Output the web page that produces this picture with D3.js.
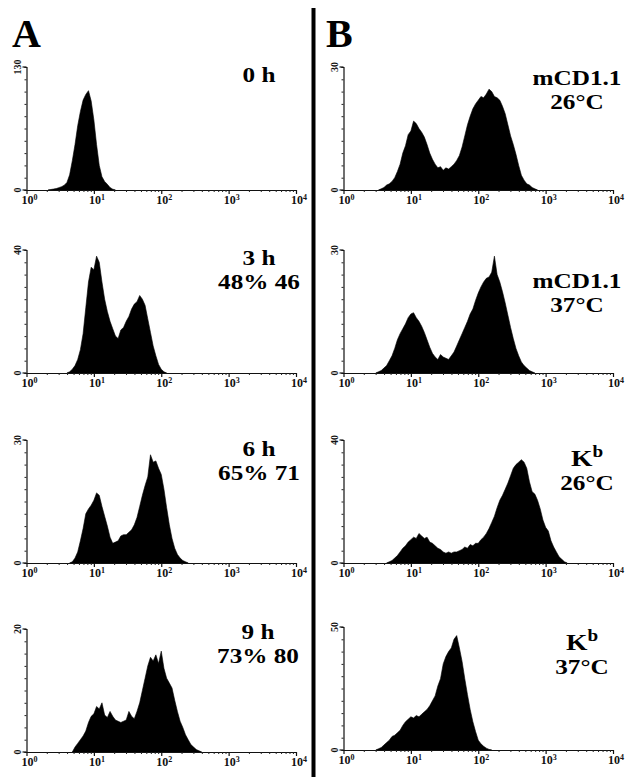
<!DOCTYPE html>
<html><head><meta charset="utf-8">
<script src="https://cdn.jsdelivr.net/npm/d3@7"></script>
<style>body{margin:0;background:#fff}svg{display:block}</style>
</head><body><svg id="c" width="630" height="777"></svg>
<script>
// ---- data: histogram bins, log10(fluorescence) start + fixed step, counts per bin ----
const binStep = 0.04;

const a0Start = 0.32;
const a0Counts = [0,0.5,1,1.5,2.5,3.5,5,8,16,31,48,68,83,95,101,105,94,74,48,26,14,9,6,2.6,0.9,0];

const a1Start = 0.60;
const a1Counts = [0,0.4,1.2,2.4,4.4,7.6,12.8,21.2,29.6,34.4,33.6,38,36,29.6,24,20,16.8,14.4,12,11.2,14,14.8,16.8,18.4,20.8,22.4,23.2,25.2,24,22,17.6,13.2,8.8,5.6,2.8,1.2,0.4,0];

const a2Start = 0.64;
const a2Counts = [0,0.3,1.2,2.7,5.4,8.4,12,13.2,14.1,15.3,17.1,16.5,13.8,11.4,9,6.3,4.8,5.1,5.4,6.6,6.9,6.9,7.5,8.1,9.3,11.1,13.8,16.5,18.9,21,26.4,24.6,24.9,23.1,21.6,18,13.5,9.3,6,3.6,2.1,1.2,0.6,0.3,0];

const a3Start = 0.68;
const a3Counts = [0,0.8,1.4,2,2.6,3.4,4.8,5.8,6.2,7.4,7,8,6,5.6,6.6,5.8,5.2,5,4.8,5,5.2,6.6,5.8,5.4,6.6,8,10,12,14,15.4,14.8,15.8,14.4,16.4,13.6,12,11.2,10.4,8.4,6.6,5,4,2.8,2,1.2,0.8,0.4,0.2,0];

const b0Start = 0.52;
const b0Counts = [0,0.3,0.6,1.2,1.5,2.1,3,4.5,6.3,9,10.8,13.5,14.4,16.8,16.2,15,14.1,12.9,11.1,9,7.5,6.3,5.4,5.7,4.8,5.4,5.1,5.7,6.3,7.2,8.4,10.5,13.2,15.9,18,19.8,21,21.9,22.8,22.5,23.4,24.6,24,22.8,22.5,21.9,20.4,18.6,15.9,13.2,11.1,8.7,6,3.6,2.4,1.5,1.2,0.6,0.3,0];

const b1Start = 0.48;
const b1Counts = [0,0.3,0.6,1.2,1.8,3,4.2,6,8.1,9.6,10.8,12,13.5,14.4,14.7,13.5,12.6,11.4,9.9,8.1,6.3,4.8,3.9,3.3,4.5,3.9,3.6,3.3,4.2,5.1,6.6,8.1,9.6,11.1,12.6,14.4,15.6,17.7,19.5,21,22.2,23.1,23.4,24.6,28.5,24,22.2,19.8,17.1,14.1,11.1,8.4,6,4.2,2.7,1.8,1.2,0.6,0.3,0];

const b2Start = 0.64;
const b2Counts = [0,0.4,0.8,1.6,2.4,3.6,4.8,5.6,6.8,7.6,8.4,8,9.6,8.8,8,8.4,6.8,6.4,5.6,4.8,4.4,3.6,3.2,3.6,3.2,3.6,3.6,4,4.4,5.2,4.8,6,5.6,6.4,6.4,7.6,8.4,9.6,11.2,13.2,15.2,18,20.4,22,24,26,28.4,30.8,32,32.8,33.6,32.8,30.8,26.4,23.2,22.4,20.4,17.6,14,11.6,10.4,7.2,5.2,3.6,2,1.2,0.4,0];

const b3Start = 0.48;
const b3Counts = [0,0.5,1,2,3,4,5.5,6,7,8,10,11.5,12.5,13.5,13,14,13.5,14.5,15.5,16.5,18,20,22,26,29,35,38,40,41.5,45,46.5,41.5,36,29,22.5,16.5,11.5,7.5,4,2.5,1.5,0.75,0.25,0];

// y-axis maxima (tick labels) per panel
const yMaxA = [130, 40, 30, 20];
const yMaxB = [30, 30, 40, 50];

// x tick exponents
const xTickExps = [0, 1, 2, 3, 4];

// panel titles (line1, line2); "|" marks a superscript
const titlesA = [["0 h", ""], ["3 h", "48% 46"], ["6 h", "65% 71"], ["9 h", "73% 80"]];
const titlesB = [["mCD1.1", "26°C"], ["mCD1.1", "37°C"], ["K|b", "26°C"], ["K|b", "37°C"]];

const panelLetters = ["A", "B"];

// ---- layout ----
const svg = d3.select("#c");
const W = 269.5, H = 123;
const colX = [26.5, 343.5];
const rowTopA = [67, 250, 440, 629];
const rowTopB = [67, 250, 440, 627];
const FONT = "'Liberation Serif', 'Times New Roman', serif";
const TITLE_SIZE = 21, TITLE_SX = 1.2;

const startsA = [a0Start, a1Start, a2Start, a3Start];
const countsA = [a0Counts, a1Counts, a2Counts, a3Counts];
const startsB = [b0Start, b1Start, b2Start, b3Start];
const countsB = [b0Counts, b1Counts, b2Counts, b3Counts];

// title placement (centre x, baselines)
const titlePosA = [[259, 82, 0], [259, 265, 289], [259, 456, 480], [258, 639, 663]];
const titlePosB = [[577, 85, 109], [577, 288, 312], [587, 466, 490], [582, 650, 674]];

// divider
svg.append("rect").attr("x", 311.5).attr("y", 8).attr("width", 4).attr("height", 777).attr("fill", "#000");

// panel letters
svg.append("text").attr("x", 12).attr("y", 47).text(panelLetters[0])
  .attr("font-family", FONT).attr("font-weight", "bold").attr("font-size", 40).attr("fill", "#000");
svg.append("text").attr("x", 326).attr("y", 47).text(panelLetters[1])
  .attr("font-family", FONT).attr("font-weight", "bold").attr("font-size", 40).attr("fill", "#000");

function titleText(cx, by) {
  return svg.append("text").attr("transform", `translate(${cx},${by}) scale(${TITLE_SX},1)`)
    .attr("text-anchor", "middle").attr("font-family", FONT).attr("font-weight", "bold")
    .attr("font-size", TITLE_SIZE).attr("fill", "#000");
}

function drawPanel(x0, top, start, counts, yMax, title, tpos) {
  const g = svg.append("g").attr("transform", `translate(${x0},${top})`);
  const x = d3.scaleLog().domain([1, 1e4]).range([0, W]);
  const y = d3.scaleLinear().domain([0, yMax]).range([H, 0]);
  const pts = counts.map((c, i) => ({ v: Math.pow(10, start + i * binStep), c }));

  const area = d3.area().x(d => x(d.v)).y0(H).y1(d => y(d.c)).curve(d3.curveLinear);
  g.append("path").datum(pts).attr("d", area).attr("fill", "#000").attr("stroke", "#000").attr("stroke-width", 0.6);

  // y axis with 10 minor ticks
  const yAx = d3.axisLeft(y).tickValues(d3.range(0, 11).map(k => k * yMax / 10)).tickSize(2).tickFormat("");
  const ya = g.append("g").call(yAx);
  ya.select(".domain").attr("stroke", "#111").attr("stroke-width", 1.2);
  ya.selectAll(".tick line").attr("stroke", "#222");
  [0, yMax].forEach(v => {
    g.append("line").attr("x1", -4).attr("x2", 0).attr("y1", y(v)).attr("y2", y(v)).attr("stroke", "#111").attr("stroke-width", 1.2);
    g.append("text").attr("transform", `translate(-5.5,${y(v)}) rotate(-90)`)
      .attr("text-anchor", "middle").attr("font-family", FONT).attr("font-size", 10).attr("font-weight", "bold")
      .attr("fill", "#111").text(String(v));
  });

  // x axis: minor ticks 2..9 per decade, majors at powers of ten
  const minor = [];
  for (let k = 0; k < 4; k++) for (let m = 2; m <= 9; m++) minor.push(m * Math.pow(10, k));
  const xa = g.append("g").attr("transform", `translate(0,${H})`)
    .call(d3.axisBottom(x).tickValues(minor).tickSize(2).tickSizeOuter(0).tickFormat(""));
  xa.select(".domain").attr("stroke", "#111").attr("stroke-width", 1.2);
  xa.selectAll(".tick line").attr("stroke", "#222");
  const xm = g.append("g").attr("transform", `translate(0,${H})`)
    .call(d3.axisBottom(x).tickValues(xTickExps.map(e => Math.pow(10, e))).tickSize(4).tickSizeOuter(0).tickFormat(""));
  xm.select(".domain").remove();
  xm.selectAll(".tick line").attr("stroke", "#111").attr("stroke-width", 1.2);

  xTickExps.forEach(e => {
    const t = g.append("text").attr("x", x(Math.pow(10, e)) + 3).attr("y", H + 14)
      .attr("text-anchor", "middle").attr("font-family", FONT).attr("font-size", 12).attr("font-weight", "bold").attr("fill", "#111");
    t.append("tspan").text("10");
    t.append("tspan").attr("dy", -4).attr("font-size", 8).text(String(e));
  });

  // titles
  const [cx, b1, b2] = tpos;
  const l1 = titleText(cx, b1);
  if (title[0].includes("|")) {
    const [base, sup] = title[0].split("|");
    l1.append("tspan").attr("font-size", TITLE_SIZE + 2).text(base);
    l1.append("tspan").attr("dy", -9).attr("font-size", 16).text(sup);
  } else {
    l1.text(title[0]);
  }
  if (title[1]) titleText(cx, b2).text(title[1]);
}

for (let r = 0; r < 4; r++) {
  drawPanel(colX[0], rowTopA[r], startsA[r], countsA[r], yMaxA[r], titlesA[r], titlePosA[r]);
  drawPanel(colX[1], rowTopB[r], startsB[r], countsB[r], yMaxB[r], titlesB[r], titlePosB[r]);
}
</script>
</body></html>
